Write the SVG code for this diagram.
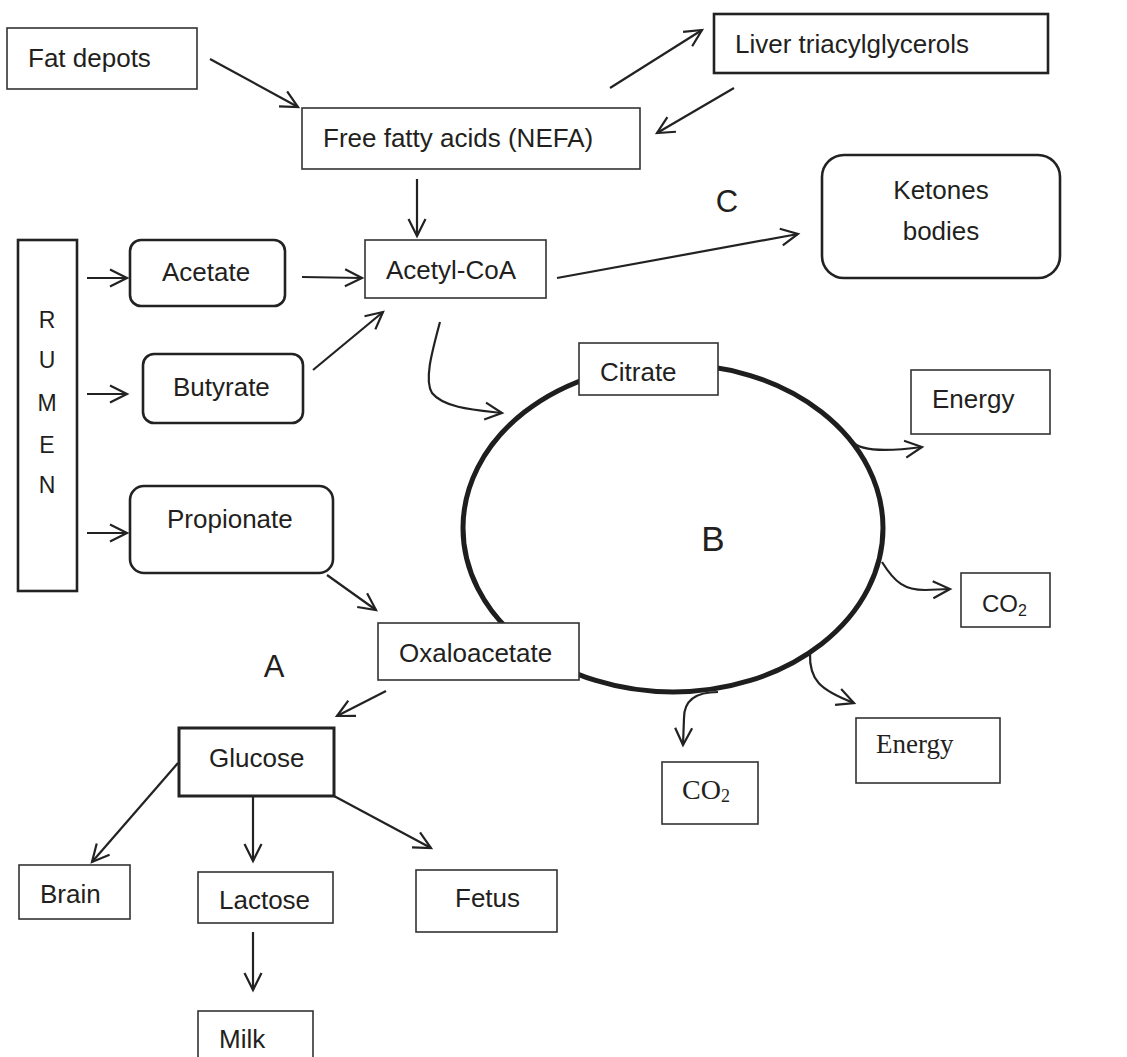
<svg xmlns="http://www.w3.org/2000/svg" width="1127" height="1057" viewBox="0 0 1127 1057">
<style>
  .box{fill:#fff;stroke:#333;stroke-width:1.6}
  .thick{fill:#fff;stroke:#222;stroke-width:2.6}
  .rbox{fill:#fff;stroke:#222;stroke-width:2.6}
  .t{font-family:"Liberation Sans",Arial,sans-serif;font-size:26px;fill:#231f20}
  .ts{font-family:"Liberation Serif","Times New Roman",serif;fill:#231f20}
  .big{font-family:"Liberation Sans",Arial,sans-serif;fill:#231f20}
  .c{fill:none;stroke:#222;stroke-width:2.2}
  .arr{marker-end:url(#ah)}
</style>
<defs>
  <marker id="ah" markerUnits="userSpaceOnUse" viewBox="-20 -11 23 22" markerWidth="23" markerHeight="22" refX="0" refY="0" orient="auto">
    <path d="M-17,-8.5 L0,0 L-17,8.5" fill="none" stroke="#222" stroke-width="2.2"/>
  </marker>
</defs>
<rect width="1127" height="1057" fill="#fff"/>

<g id="cycle">
  <ellipse cx="673" cy="528" rx="210" ry="164" fill="none" stroke="#1e1e1e" stroke-width="5"/>
  <text class="big" x="713" y="551" font-size="35" text-anchor="middle">B</text>
</g>

<g id="connectors">
  <line class="c arr" x1="210" y1="59" x2="298" y2="107"/>
  <line class="c arr" x1="610" y1="88" x2="702" y2="30"/>
  <line class="c arr" x1="734" y1="88" x2="657" y2="133"/>
  <line class="c arr" x1="417" y1="179" x2="417" y2="236"/>
  <line class="c arr" x1="87" y1="278" x2="127" y2="278"/>
  <line class="c arr" x1="87" y1="394" x2="127" y2="394"/>
  <line class="c arr" x1="87" y1="533" x2="127" y2="533"/>
  <line class="c arr" x1="302" y1="277" x2="362" y2="278"/>
  <line class="c arr" x1="313" y1="370" x2="383" y2="312"/>
  <line class="c arr" x1="557" y1="278" x2="798" y2="234"/>
  <path class="c arr" d="M440,322 C432,352 424,380 432,393 C444,408 475,410 502,413"/>
  <path class="c arr" d="M852,441 Q862,455 922,447"/>
  <path class="c arr" d="M882,562 C895,583 905,590 925,590 L950,589"/>
  <path class="c arr" d="M810,653 C809,680 820,690 854,703"/>
  <path class="c arr" d="M718,692 C697,692 684,700 684,718 L683,745"/>
  <line class="c arr" x1="327" y1="575" x2="376" y2="610"/>
  <line class="c arr" x1="386" y1="691" x2="337" y2="716"/>
  <line class="c arr" x1="178" y1="763" x2="92" y2="862"/>
  <line class="c arr" x1="253" y1="797" x2="253" y2="861"/>
  <line class="c arr" x1="334" y1="796" x2="431" y2="848"/>
  <line class="c arr" x1="253" y1="932" x2="253" y2="990"/>
</g>

<g id="fat-depots"><rect class="box" x="7" y="28" width="190" height="61"/><text class="t" x="28" y="67">Fat depots</text></g>
<g id="ffa"><rect class="box" x="302" y="108" width="338" height="61"/><text class="t" x="323" y="147">Free fatty acids (NEFA)</text></g>
<g id="liver"><rect class="thick" x="714" y="14" width="334" height="59"/><text class="t" x="735" y="53" font-size="24.5">Liver triacylglycerols</text></g>
<g id="ketones"><rect class="rbox" x="822" y="155" width="238" height="123" rx="22"/><text class="t" x="941" y="199" font-size="24" text-anchor="middle">Ketones</text><text class="t" x="941" y="240" font-size="24" text-anchor="middle">bodies</text></g>
<g id="label-c"><text class="big" x="727" y="212" font-size="31" text-anchor="middle">C</text></g>
<g id="acetyl-coa"><rect class="box" x="365" y="240" width="181" height="58"/><text class="t" x="386" y="279">Acetyl-CoA</text></g>
<g id="rumen"><rect class="thick" x="18" y="240" width="59" height="351"/>
  <text class="big" font-size="23" text-anchor="middle" x="47"><tspan x="47" y="328">R</tspan><tspan x="47" y="368">U</tspan><tspan x="47" y="411">M</tspan><tspan x="47" y="453">E</tspan><tspan x="47" y="493">N</tspan></text></g>
<g id="acetate"><rect class="rbox" x="130" y="240" width="155" height="66" rx="11"/><text class="t" x="162" y="281">Acetate</text></g>
<g id="butyrate"><rect class="rbox" x="143" y="354" width="160" height="69" rx="11"/><text class="t" x="173" y="396">Butyrate</text></g>
<g id="propionate"><rect class="rbox" x="130" y="486" width="203" height="87" rx="14"/><text class="t" x="167" y="528">Propionate</text></g>
<g id="citrate"><rect class="box" x="579" y="343" width="139" height="52"/><text class="t" x="600" y="381">Citrate</text></g>
<g id="energy-1"><rect class="box" x="911" y="370" width="139" height="64"/><text class="t" x="932" y="408">Energy</text></g>
<g id="co2-1"><rect class="box" x="961" y="573" width="89" height="54"/><text class="big" x="982" y="612" font-size="24">CO<tspan font-size="16" dy="4">2</tspan></text></g>
<g id="oxaloacetate"><rect class="box" x="378" y="623" width="201" height="57"/><text class="t" x="399" y="662">Oxaloacetate</text></g>
<g id="label-a"><text class="big" x="274" y="677" font-size="31" text-anchor="middle">A</text></g>
<g id="energy-2"><rect class="box" x="856" y="718" width="144" height="65"/><text class="ts" x="876" y="753" font-size="27">Energy</text></g>
<g id="co2-2"><rect class="box" x="662" y="762" width="96" height="62"/><text class="ts" x="682" y="799" font-size="28">CO<tspan font-size="18" dy="3">2</tspan></text></g>
<g id="glucose"><rect class="box" x="179" y="728" width="155" height="68" style="stroke-width:3;stroke:#222"/><text class="t" x="209" y="767">Glucose</text></g>
<g id="brain"><rect class="box" x="19" y="865" width="111" height="54"/><text class="t" x="40" y="903">Brain</text></g>
<g id="lactose"><rect class="box" x="198" y="872" width="135" height="51"/><text class="t" x="219" y="909">Lactose</text></g>
<g id="fetus"><rect class="box" x="416" y="870" width="141" height="62"/><text class="t" x="455" y="907">Fetus</text></g>
<g id="milk"><rect class="box" x="198" y="1011" width="115" height="52"/><text class="t" x="219" y="1048">Milk</text></g>
</svg>
